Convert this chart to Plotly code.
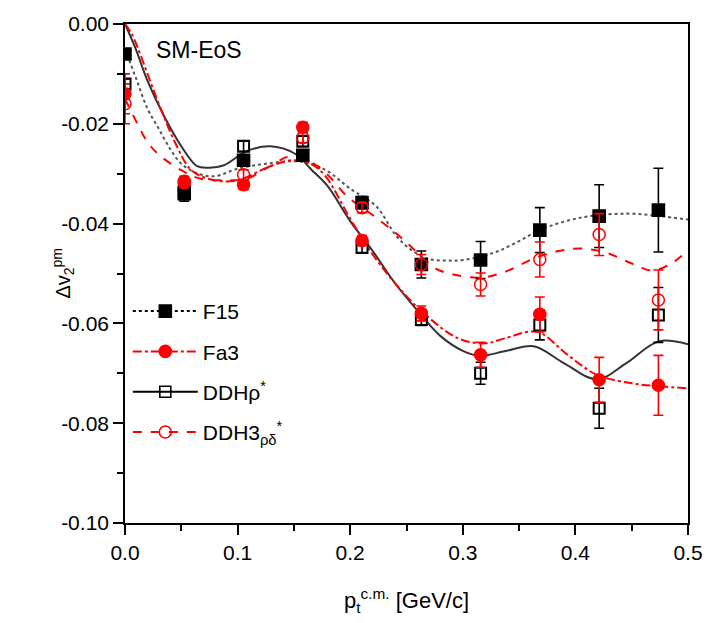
import plotly.graph_objects as go

# ---- data points (pt in GeV/c, delta v2) ----
pt_points = [0.0, 0.0526, 0.1053, 0.1579, 0.2105, 0.2632, 0.3158, 0.3684, 0.4211, 0.4737]

f15_y = [-0.006, -0.034, -0.0273, -0.0263, -0.0358, -0.0482, -0.0473, -0.0413, -0.0385, -0.0373]
f15_err = [0.001, 0.0015, 0.001, 0.001, 0.0012, 0.0027, 0.0037, 0.0045, 0.0063, 0.0084]

fa3_y = [-0.014, -0.0315, -0.0322, -0.0207, -0.0434, -0.058, -0.0663, -0.0582, -0.0713, -0.0724]
fa3_err = [0.004, 0.001, 0.001, 0.001, 0.001, 0.0015, 0.0025, 0.0035, 0.0045, 0.006]

ddh_y = [-0.012, -0.0335, -0.0245, -0.0235, -0.0448, -0.0592, -0.0700, -0.0603, -0.0770, -0.0583]
ddh_err = [0.001, 0.0012, 0.001, 0.001, 0.001, 0.0012, 0.0022, 0.003, 0.004, 0.0055]

ddh3_y = [-0.016, -0.0318, -0.0302, -0.0228, -0.0368, -0.0482, -0.0522, -0.0472, -0.0422, -0.0553]
ddh3_err = [0.004, 0.001, 0.001, 0.001, 0.001, 0.002, 0.0023, 0.0035, 0.0042, 0.006]

# ---- smooth model curves ----
f15_cx = [0.0, 0.01, 0.02, 0.03, 0.04, 0.05, 0.065, 0.08, 0.10, 0.125, 0.15, 0.165, 0.18, 0.20,
          0.223, 0.241, 0.255, 0.27, 0.285, 0.30, 0.328, 0.35, 0.369, 0.405, 0.445, 0.475, 0.50]
f15_cy = [-0.005, -0.011, -0.017, -0.021, -0.025, -0.028, -0.030, -0.0305, -0.029, -0.028, -0.0275,
          -0.028, -0.0295, -0.033, -0.0365, -0.0425, -0.0454, -0.0471, -0.0474, -0.0473, -0.0458,
          -0.0435, -0.0412, -0.0388, -0.038, -0.0385, -0.0392]

fa3_cx = [0.0, 0.006, 0.029, 0.045, 0.059, 0.079, 0.10, 0.129, 0.149, 0.165, 0.178, 0.20, 0.22,
          0.24, 0.264, 0.296, 0.32, 0.337, 0.366, 0.393, 0.419, 0.45, 0.474, 0.50]
fa3_cy = [0.0, -0.002, -0.0154, -0.024, -0.0293, -0.0313, -0.0313, -0.0285, -0.0273, -0.028,
          -0.0305, -0.039, -0.0462, -0.052, -0.0577, -0.063, -0.064, -0.063, -0.0617, -0.0663,
          -0.0703, -0.072, -0.0726, -0.073]

ddh_cx = [0.0, 0.009, 0.02, 0.035, 0.05, 0.064, 0.075, 0.088, 0.108, 0.129, 0.151, 0.166, 0.18,
          0.20, 0.22, 0.24, 0.26, 0.28, 0.30, 0.315, 0.337, 0.363, 0.39, 0.419, 0.445, 0.474, 0.50]
ddh_cy = [0.0, -0.0047, -0.0114, -0.0186, -0.0245, -0.0285, -0.0288, -0.0283, -0.0255, -0.0245,
          -0.026, -0.0293, -0.0325, -0.0395, -0.0455, -0.052, -0.0575, -0.0625, -0.0655, -0.0665,
          -0.0656, -0.0646, -0.068, -0.0712, -0.068, -0.0636, -0.0642]

ddh3_cx = [0.0, 0.011, 0.019, 0.029, 0.05, 0.067, 0.09, 0.108, 0.129, 0.146, 0.16, 0.179, 0.197,
           0.223, 0.241, 0.252, 0.276, 0.296, 0.317, 0.337, 0.363, 0.385, 0.405, 0.427, 0.45,
           0.468, 0.485, 0.50]
ddh3_cy = [-0.015, -0.020, -0.0233, -0.026, -0.0293, -0.031, -0.0313, -0.031, -0.0285, -0.0265,
           -0.027, -0.030, -0.0345, -0.0388, -0.042, -0.0442, -0.049, -0.0504, -0.0508, -0.0497,
           -0.047, -0.0455, -0.045, -0.0458, -0.048, -0.0494, -0.048, -0.0454]

# ---- axis ticks ----
x_tickvals = [0.0, 0.1, 0.2, 0.3, 0.4, 0.5]
x_ticktext = ["0.0", "0.1", "0.2", "0.3", "0.4", "0.5"]
y_tickvals = [0.0, -0.02, -0.04, -0.06, -0.08, -0.10]
y_ticktext = ["0.00", "-0.02", "-0.04", "-0.06", "-0.08", "-0.10"]

RED = "#ff0000"
BLACK = "#000000"
FONT = "Liberation Sans, Arial, sans-serif"

fig = go.Figure()

# curves
fig.add_trace(go.Scatter(x=f15_cx, y=f15_cy, mode="lines", line=dict(color="#555555", width=2, dash="dot", shape="spline"), showlegend=False))
fig.add_trace(go.Scatter(x=ddh_cx, y=ddh_cy, mode="lines", line=dict(color="#333333", width=2, shape="spline"), showlegend=False))
fig.add_trace(go.Scatter(x=fa3_cx, y=fa3_cy, mode="lines", line=dict(color=RED, width=2, dash="dashdot", shape="spline"), showlegend=False))
fig.add_trace(go.Scatter(x=ddh3_cx, y=ddh3_cy, mode="lines", line=dict(color=RED, width=2, dash="dash", shape="spline"), showlegend=False))

# points
def pts(y, err, color, symbol, size, lw=1.6):
    return go.Scatter(
        x=pt_points, y=y, mode="markers",
        marker=dict(color=color, symbol=symbol, size=size, line=dict(color=color, width=lw)),
        error_y=dict(type="data", array=err, color=color, thickness=1.6, width=5),
        showlegend=False,
    )

fig.add_trace(pts(ddh_y, ddh_err, BLACK, "square-open", 11, 2))
fig.add_trace(pts(f15_y, f15_err, BLACK, "square", 12))
fig.add_trace(pts(ddh3_y, ddh3_err, RED, "circle-open", 12, 1.5))
fig.add_trace(pts(fa3_y, fa3_err, RED, "circle", 12))

# legend entries
def leg(name, color, dash, symbol, size, group):
    return go.Scatter(
        x=[None], y=[None], mode="lines+markers", name=name, legendgroup=group,
        line=dict(color=color, width=2, dash=dash),
        marker=dict(color=color, symbol=symbol, size=size, line=dict(color=color, width=1.6)),
    )

fig.add_trace(leg("F15", BLACK, "dot", "square", 12, "a"))
fig.add_trace(leg("Fa3", RED, "dashdot", "circle", 12, "b"))
fig.add_trace(leg("DDHρ<sup>*</sup>", BLACK, "solid", "square-open", 11, "c"))
fig.add_trace(leg("DDH3<sub>ρδ</sub><sup>*</sup>", RED, "dash", "circle-open", 12, "d"))

fig.add_annotation(x=0.026, y=-0.0052, xref="x", yref="y", text="SM-EoS", showarrow=False,
                   xanchor="left", yanchor="middle", font=dict(family=FONT, size=23, color=BLACK))

# y-axis title placed as a rotated annotation
fig.add_annotation(x=-0.11, y=0.5, xref="paper", yref="paper", text="Δv<sub>2</sub><sup>pm</sup>",
                   showarrow=False, textangle=-90, xanchor="center", yanchor="middle",
                   font=dict(family=FONT, size=20, color=BLACK))

fig.update_layout(
    width=715, height=623,
    margin=dict(l=125, r=20, t=19, b=100),
    paper_bgcolor="white", plot_bgcolor="white",
    font=dict(family=FONT, size=21, color=BLACK),
    legend=dict(x=0.005, y=0.465, xanchor="left", yanchor="top", bgcolor="rgba(0,0,0,0)",
                font=dict(family=FONT, size=21), tracegroupgap=10, itemwidth=65),
)

fig.update_xaxes(
    range=[0, 0.5], tickmode="array", tickvals=x_tickvals, ticktext=x_ticktext,
    showgrid=False, zeroline=False, showline=True, linecolor=BLACK, linewidth=1.6, mirror=True,
    ticks="outside", ticklen=10, tickwidth=1.6, tickcolor=BLACK,
    minor=dict(tickmode="linear", tick0=0, dtick=0.05, ticks="outside", ticklen=6, tickwidth=1.6, tickcolor=BLACK),
    title=dict(text="p<sub>t</sub><sup>c.m.</sup> [GeV/c]", font=dict(size=22), standoff=30),
)
fig.update_yaxes(
    range=[-0.10, 0.0], tickmode="array", tickvals=y_tickvals, ticktext=y_ticktext,
    showgrid=False, zeroline=False, showline=True, linecolor=BLACK, linewidth=1.6, mirror=True,
    ticks="outside", ticklen=10, tickwidth=1.6, tickcolor=BLACK,
    minor=dict(tickmode="linear", tick0=0, dtick=0.01, ticks="outside", ticklen=6, tickwidth=1.6, tickcolor=BLACK),
)

fig.write_html("out.html", config={"displayModeBar": False},
               post_script="document.body.style.margin='0';document.body.style.overflow='hidden';")
